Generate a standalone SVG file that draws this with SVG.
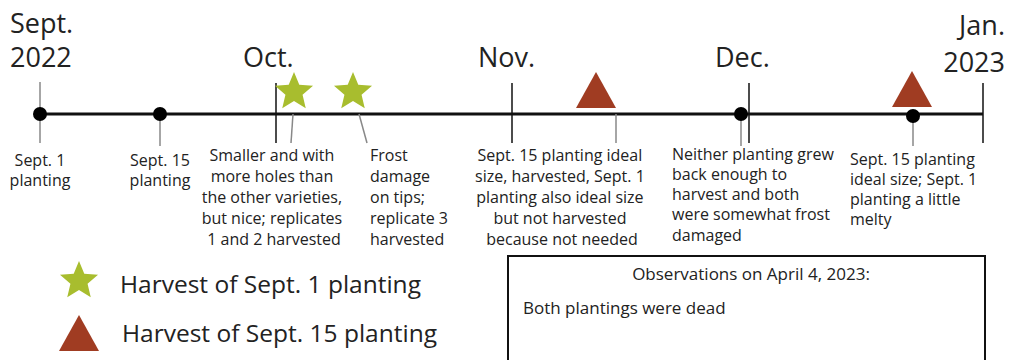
<svg xmlns="http://www.w3.org/2000/svg" width="1013" height="360" viewBox="0 0 1013 360">
<style>
text{font-family:"Open Sans","Noto Sans","DejaVu Sans",sans-serif;fill:#222}
.month{font-size:27px}
.note{font-size:16px}
.obs{font-size:17px}
.leg{font-size:24.5px}
.tick{stroke:#111;stroke-width:1.5}
.lead{stroke:#888;stroke-width:1.5}
.dot{fill:#000}
.star{fill:#A8BD2E}
.tri{fill:#A03C22}
</style>
<defs>
<path id="star" d="M0,-20 L5.29,-7.28 L19.02,-6.18 L8.56,2.78 L11.76,16.18 L0,9 L-11.76,16.18 L-8.56,2.78 L-19.02,-6.18 L-5.29,-7.28 Z"/>
<path id="tri" d="M0,0 L20,36 L-20,36 Z"/>
</defs>
<g id="connectors">
<line x1="40" y1="114" x2="983" y2="114" stroke="#111" stroke-width="3"/>
<line class="lead" x1="40" y1="82" x2="40" y2="143"/>
<line class="lead" x1="160" y1="114" x2="160" y2="146"/>
<line class="tick" x1="276" y1="83" x2="276" y2="143"/>
<line class="lead" x1="293" y1="114" x2="291" y2="143"/>
<line class="lead" x1="359" y1="114" x2="367" y2="143"/>
<line class="tick" x1="512" y1="83" x2="512" y2="143"/>
<line class="lead" x1="616" y1="114" x2="616" y2="143"/>
<line class="tick" x1="749" y1="83" x2="749" y2="143"/>
<line class="lead" x1="741" y1="114" x2="741" y2="146"/>
<line class="lead" x1="913" y1="116" x2="913" y2="146"/>
<line class="tick" x1="983" y1="83" x2="983" y2="143"/>
</g>
<g id="months">
<text class="month" x="10" y="33">Sept.</text>
<text class="month" x="10" y="67">2022</text>
<text class="month" x="243" y="67">Oct.</text>
<text class="month" x="478" y="67">Nov.</text>
<text class="month" x="715" y="67">Dec.</text>
<text class="month" x="1005" y="35" text-anchor="end">Jan.</text>
<text class="month" x="1005" y="72" text-anchor="end">2023</text>
</g>
<g id="sept1">
<circle class="dot" cx="40" cy="114" r="7"/>
<text class="note" x="40" y="166" text-anchor="middle">Sept. 1</text>
<text class="note" x="40" y="186" text-anchor="middle">planting</text>
</g>
<g id="sept15">
<circle class="dot" cx="160" cy="114" r="7"/>
<text class="note" x="160" y="166" text-anchor="middle">Sept. 15</text>
<text class="note" x="160" y="186" text-anchor="middle">planting</text>
</g>
<g id="harvest1">
<use href="#star" class="star" x="294" y="92"/>
<text class="note" text-anchor="middle">
<tspan x="274" y="161">Smaller and with</tspan>
<tspan x="274" y="182">more holes than</tspan>
<tspan x="274" y="203">the other varieties,</tspan>
<tspan x="274" y="224">but nice; replicates</tspan>
<tspan x="274" y="245">1 and 2 harvested</tspan>
</text>
</g>
<g id="harvest2">
<use href="#star" class="star" x="353" y="92"/>
<text class="note">
<tspan x="370" y="161">Frost</tspan>
<tspan x="370" y="182">damage</tspan>
<tspan x="370" y="203">on tips;</tspan>
<tspan x="370" y="224">replicate 3</tspan>
<tspan x="370" y="245">harvested</tspan>
</text>
</g>
<g id="harvest3">
<use href="#tri" class="tri" x="596" y="72"/>
<text class="note" text-anchor="middle">
<tspan x="562" y="161">Sept. 15 planting ideal</tspan>
<tspan x="562" y="182">size, harvested, Sept. 1</tspan>
<tspan x="562" y="203">planting also ideal size</tspan>
<tspan x="562" y="224">but not harvested</tspan>
<tspan x="562" y="245">because not needed</tspan>
</text>
</g>
<g id="dec">
<circle class="dot" cx="741" cy="114" r="7"/>
<text class="note">
<tspan x="672" y="160">Neither planting grew</tspan>
<tspan x="672" y="180">back enough to</tspan>
<tspan x="672" y="200">harvest and both</tspan>
<tspan x="672" y="220">were somewhat frost</tspan>
<tspan x="672" y="241">damaged</tspan>
</text>
</g>
<g id="harvest4">
<use href="#tri" class="tri" x="912" y="71"/>
<circle class="dot" cx="913" cy="116" r="7"/>
<text class="note">
<tspan x="850" y="165">Sept. 15 planting</tspan>
<tspan x="850" y="185">ideal size; Sept. 1</tspan>
<tspan x="850" y="205">planting a little</tspan>
<tspan x="850" y="225">melty</tspan>
</text>
</g>
<g id="legend">
<use href="#star" class="star" x="79" y="281"/>
<text class="leg" x="120" y="293">Harvest of Sept. 1 planting</text>
<use href="#tri" class="tri" x="79" y="315"/>
<text class="leg" x="122" y="342">Harvest of Sept. 15 planting</text>
</g>
<g id="observations">
<rect x="508" y="256" width="477" height="110" fill="#fff" stroke="#111" stroke-width="2"/>
<text class="obs" x="751" y="280" text-anchor="middle">Observations on April 4, 2023:</text>
<text class="obs" x="523" y="314">Both plantings were dead</text>
</g>
</svg>
